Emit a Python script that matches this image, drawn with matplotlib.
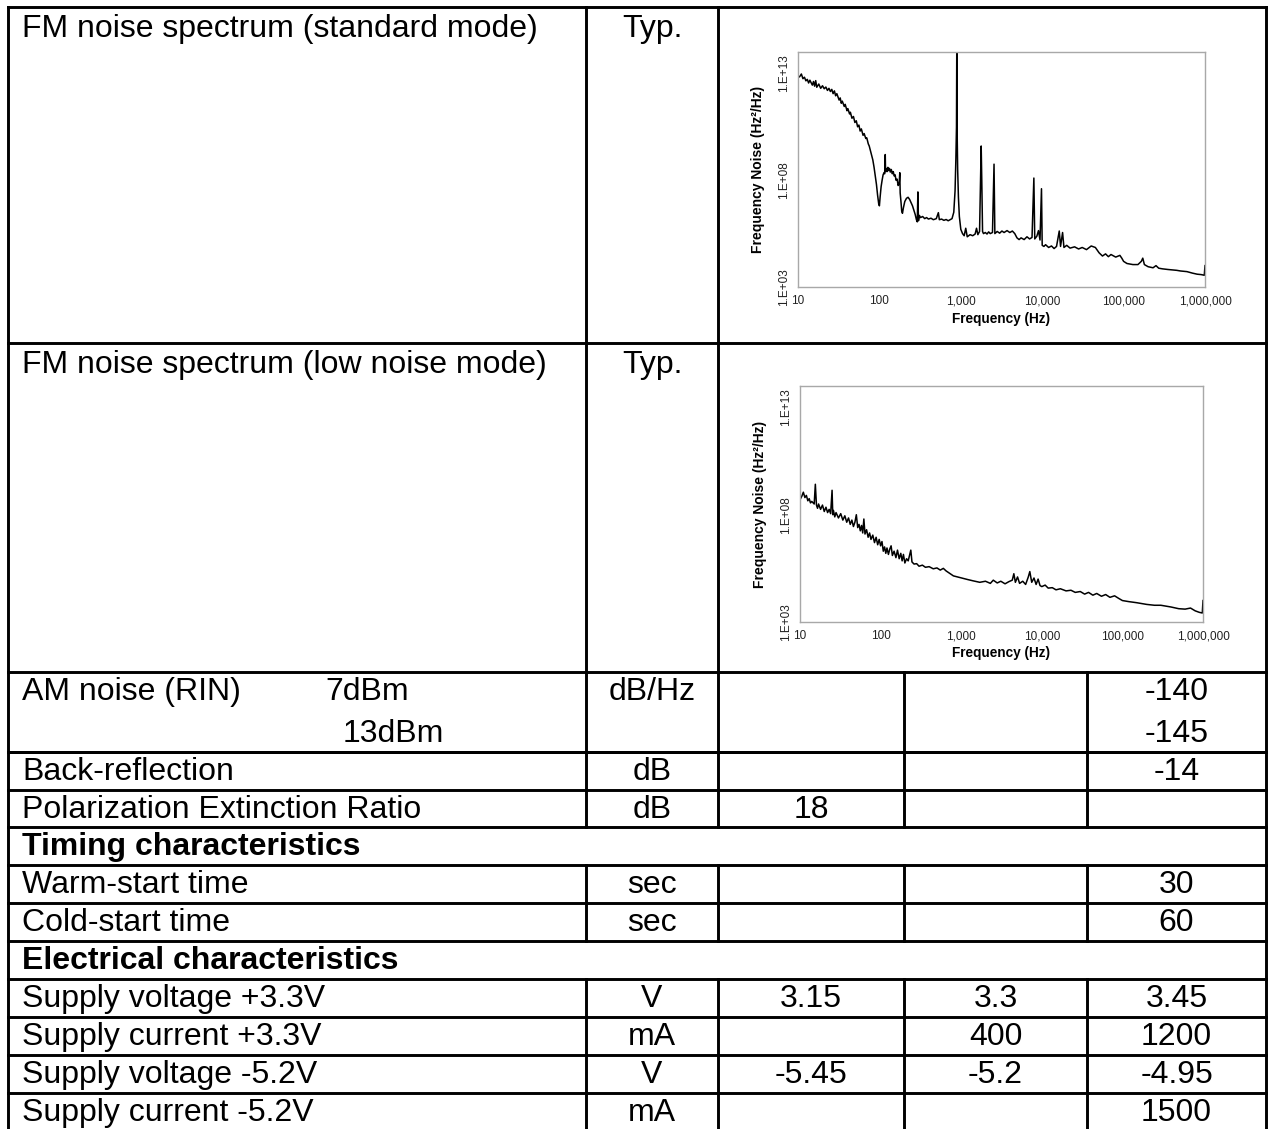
import matplotlib.pyplot as plt
import numpy as np

plt.rcParams['font.family'] = ['Liberation Sans', 'DejaVu Sans']

# ---- FM noise spectrum, standard mode (freq in Hz, noise as log10 of Hz^2/Hz)
std_freq = [10, 10.5, 11, 11.5, 12, 12.5, 13, 13.5, 14, 15, 15.5, 16, 16.5, 17, 18, 19, 20, 21, 22, 23,
            24, 25, 26, 27, 28, 29, 30, 32, 33, 34, 35, 37, 38, 40, 41, 43, 44, 46, 48, 50,
            52, 54, 56, 58, 60, 63, 65, 68, 70, 73, 75, 78, 80, 83, 86, 89, 92, 95, 98, 100,
            102, 105, 108, 111, 114, 116, 118, 119, 121, 124, 127, 130, 133, 136, 140, 144, 148, 152, 156, 160,
            165, 170, 175, 178, 180, 184, 188, 192, 197, 205, 215, 225, 235, 245, 255, 265, 275, 285, 292, 297,
            302, 310, 320, 340, 360, 380, 400, 430, 460, 500, 530, 545, 580, 620, 660, 700, 740, 780, 820, 850,
            870, 885, 893, 900, 915, 935, 960, 1000, 1050, 1100, 1150, 1200, 1300, 1400, 1500, 1560, 1620, 1700, 1750, 1780,
            1810, 1850, 1900, 2000, 2100, 2200, 2300, 2450, 2560, 2620, 2800, 3000, 3200, 3400, 3700, 4000, 4300, 4600, 4900, 5200,
            5500, 6000, 6500, 7000, 7500, 7900, 8100, 8600, 9000, 9400, 9800, 10000, 10500, 11000, 12000, 13000, 14000, 15000, 16200, 16800,
            17800, 18500, 20000, 22000, 25000, 28000, 31000, 35000, 40000, 45000, 50000, 55000, 60000, 65000, 70000, 80000, 90000, 95000, 100000, 110000,
            130000, 150000, 165000, 172000, 180000, 200000, 230000, 250000, 270000, 300000, 350000, 400000, 450000, 500000, 600000, 700000, 800000, 900000, 980000, 1000000]
std_noise_exp = [12.80, 12.85, 12.97, 12.75, 12.82, 12.65, 12.72, 12.55, 12.68, 12.45, 12.62, 12.40, 12.66, 12.35, 12.50, 12.30, 12.42, 12.28, 12.36, 12.20,
                 12.30, 12.15, 12.25, 12.05, 12.18, 11.95, 12.05, 11.75, 11.85, 11.60, 11.70, 11.45, 11.55, 11.25, 11.35, 11.10, 11.18, 10.90, 10.98, 10.70,
                 10.78, 10.50, 10.58, 10.30, 10.40, 10.10, 10.18, 9.95, 9.98, 9.70, 9.60, 9.35, 9.20, 8.95, 8.60, 8.20, 7.80, 7.30, 6.90, 6.80,
                 7.20, 7.70, 8.00, 8.25, 8.35, 8.30, 9.20, 8.40, 8.55, 8.40, 8.60, 8.45, 8.55, 8.38, 8.50, 8.30, 8.40, 8.20, 8.25, 8.00,
                 8.05, 7.75, 7.85, 8.35, 7.40, 7.00, 6.55, 6.45, 6.70, 7.00, 7.15, 7.20, 7.10, 6.95, 6.80, 6.60, 6.40, 6.15, 6.05, 7.45,
                 6.10, 6.35, 6.25, 6.30, 6.20, 6.25, 6.18, 6.22, 6.15, 6.20, 6.48, 6.15, 6.18, 6.12, 6.16, 6.10, 6.15, 6.20, 6.50, 7.50,
                 9.00, 10.50, 14.50, 10.50, 8.50, 7.20, 6.30, 5.70, 5.50, 5.40, 5.75, 5.35, 5.45, 5.40, 5.48, 5.75, 5.45, 5.60, 8.00, 9.60,
                 8.00, 5.60, 5.50, 5.55, 5.48, 5.58, 5.50, 5.55, 8.75, 5.50, 5.60, 5.52, 5.62, 5.55, 5.64, 5.55, 5.62, 5.50, 5.30, 5.22,
                 5.30, 5.22, 5.35, 5.25, 5.32, 8.10, 5.25, 5.38, 5.64, 5.20, 7.60, 4.95, 4.90, 4.98, 4.85, 4.92, 4.80, 4.90, 5.62, 4.90,
                 5.55, 4.85, 4.95, 4.82, 4.88, 4.78, 4.85, 4.75, 4.92, 4.85, 4.60, 4.45, 4.55, 4.42, 4.52, 4.40, 4.48, 4.35, 4.20, 4.10,
                 4.05, 4.05, 4.20, 4.35, 4.05, 3.95, 3.90, 4.00, 3.88, 3.85, 3.82, 3.80, 3.78, 3.75, 3.72, 3.65, 3.60, 3.58, 3.55, 4.00]

# ---- FM noise spectrum, low noise mode
low_freq = [10, 10.5, 11, 11.5, 12, 12.5, 13, 13.5, 14, 15, 15.5, 16, 16.5, 17, 18, 19, 20, 21, 22, 23,
            24, 25, 25.5, 26, 27, 28, 30, 32, 34, 36, 38, 40, 42, 44, 46, 48, 50, 52, 54, 56,
            58, 60, 62, 64, 67, 70, 73, 76, 80, 84, 88, 92, 96, 100, 104, 108, 112, 116, 120, 125,
            130, 135, 140, 147, 155, 162, 170, 178, 185, 192, 200, 210, 220, 237, 245, 260, 280, 300, 330, 360,
            400, 450, 500, 550, 600, 650, 700, 800, 900, 1000, 1200, 1400, 1700, 2000, 2300, 2500, 2800, 3100, 3500, 3900,
            4300, 4500, 4700, 5000, 5300, 5800, 6300, 6800, 7100, 7500, 8000, 8500, 9000, 9500, 10000, 11000, 12000, 13500, 15000, 17000,
            20000, 23000, 26000, 30000, 34000, 38000, 43000, 48000, 55000, 62000, 70000, 80000, 90000, 100000, 120000, 150000, 200000, 250000, 300000, 400000,
            500000, 600000, 700000, 800000, 900000, 980000, 1000000]
low_noise_exp = [8.70, 8.85, 9.05, 8.80, 8.90, 8.65, 8.75, 8.55, 8.62, 8.50, 9.42, 8.45, 8.30, 8.50, 8.25, 8.45, 8.15, 8.35, 8.10, 8.25,
                 8.05, 9.14, 8.00, 8.20, 7.90, 8.10, 7.85, 8.05, 7.75, 7.95, 7.65, 7.85, 7.55, 7.75, 7.45, 7.65, 8.00, 7.40, 7.55, 7.25,
                 7.50, 7.15, 7.80, 7.10, 7.30, 6.95, 7.15, 6.85, 7.05, 6.70, 6.95, 6.60, 6.85, 6.55, 6.75, 6.30, 6.50, 6.20, 6.45, 6.15,
                 6.40, 6.55, 6.10, 6.30, 6.00, 6.35, 5.95, 6.20, 5.85, 6.15, 5.75, 5.95, 5.85, 6.35, 5.80, 5.70, 5.72, 5.60, 5.65, 5.55,
                 5.58, 5.48, 5.52, 5.42, 5.50, 5.38, 5.30, 5.15, 5.10, 5.05, 4.98, 4.92, 4.85, 4.90, 4.80, 4.95, 4.82, 4.90, 4.78, 4.88,
                 4.95, 5.25, 4.85, 5.10, 4.80, 4.90, 4.75, 5.10, 5.35, 4.85, 5.05, 4.75, 5.00, 4.70, 4.65, 4.72, 4.58, 4.60, 4.50, 4.55,
                 4.45, 4.48, 4.38, 4.42, 4.30, 4.38, 4.25, 4.33, 4.20, 4.28, 4.15, 4.22, 4.10, 4.00, 3.95, 3.90, 3.82, 3.78, 3.78, 3.70,
                 3.62, 3.60, 3.65, 3.52, 3.45, 3.42, 4.00]

x_tick_vals = [10, 100, 1000, 10000, 100000, 1000000]
x_tick_labels = ['10', '100', '1,000', '10,000', '100,000', '1,000,000']
y_tick_vals = [1e3, 1e8, 1e13]
y_tick_labels = ['1.E+03', '1.E+08', '1.E+13']

# ---- table text
chart_labels = ['FM noise spectrum (standard mode)', 'FM noise spectrum (low noise mode)']
chart_units = ['Typ.', 'Typ.']

row_labels = ['Back-reflection', 'Polarization Extinction Ratio', 'Timing characteristics',
              'Warm-start time', 'Cold-start time', 'Electrical characteristics',
              'Supply voltage +3.3V', 'Supply current +3.3V', 'Supply voltage -5.2V', 'Supply current -5.2V']
row_units = ['dB', 'dB', None, 'sec', 'sec', None, 'V', 'mA', 'V', 'mA']
row_min = ['', '18', '', '', '', '', '3.15', '', '-5.45', '']
row_typ = ['', '', '', '', '', '', '3.3', '400', '-5.2', '']
row_max = ['-14', '', '', '30', '60', '', '3.45', '1200', '-4.95', '1500']

W, H = 1268, 1129
fig = plt.figure(figsize=(W / 100, H / 100), dpi=100)
tab = fig.add_axes([0, 0, 1, 1])
tab.set_xlim(0, W)
tab.set_ylim(H, 0)
tab.axis('off')

xc = [8, 586, 718, 904, 1087, 1266]
y_top = [7, 343, 672, 752]
y_rows = [752, 790, 827, 865, 903, 941, 979, 1017, 1055, 1093, 1133]
lw = 2.1
fs = 23
line_kw = dict(color='black', lw=lw, solid_capstyle='projecting')

# horizontal lines
for y in y_top + y_rows:
    tab.plot([xc[0], xc[-1]], [y, y], **line_kw)
# outer verticals
tab.plot([xc[0], xc[0]], [y_top[0], 1133], **line_kw)
tab.plot([xc[-1], xc[-1]], [y_top[0], 1133], **line_kw)
# chart rows: verticals for first two columns
tab.plot([xc[1], xc[1]], [y_top[0], 672], **line_kw)
tab.plot([xc[2], xc[2]], [y_top[0], 672], **line_kw)
# AM row
for x in xc[1:5]:
    tab.plot([x, x], [672, 752], **line_kw)
# remaining rows
for i, u in enumerate(row_units):
    if u is None:
        continue
    for x in xc[1:5]:
        tab.plot([x, x], [y_rows[i], y_rows[i + 1]], **line_kw)

# chart row text
for i in range(2):
    tab.text(22, y_top[i] + 30, chart_labels[i], fontsize=fs, va='baseline', ha='left')
    tab.text((xc[1] + xc[2]) / 2, y_top[i] + 30, chart_units[i], fontsize=fs, va='baseline', ha='center')

# AM noise row
tab.text(22, 700, 'AM noise (RIN)', fontsize=fs, va='baseline', ha='left')
tab.text(325, 700, '7dBm', fontsize=fs, va='baseline', ha='left')
tab.text(343, 742, '13dBm', fontsize=fs, va='baseline', ha='left')
tab.text((xc[1] + xc[2]) / 2, 700, 'dB/Hz', fontsize=fs, va='baseline', ha='center')
tab.text((xc[4] + xc[5]) / 2, 700, '-140', fontsize=fs, va='baseline', ha='center')
tab.text((xc[4] + xc[5]) / 2, 742, '-145', fontsize=fs, va='baseline', ha='center')

for i, lab in enumerate(row_labels):
    yb = y_rows[i] + 28
    if row_units[i] is None:
        tab.text(22, yb, lab, fontsize=fs, va='baseline', ha='left', fontweight='bold')
        continue
    tab.text(22, yb, lab, fontsize=fs, va='baseline', ha='left')
    vals = [row_units[i], row_min[i], row_typ[i], row_max[i]]
    for j, v in enumerate(vals):
        if v:
            tab.text((xc[j + 1] + xc[j + 2]) / 2, yb, v, fontsize=fs, va='baseline', ha='center')


def draw_chart(rect, freq, noise_exp):
    ax = fig.add_axes(rect)
    ax.plot(freq, 10 ** np.array(noise_exp), color='black', lw=1.1)
    ax.set_xscale('log')
    ax.set_yscale('log')
    ax.set_xlim(10, 1e6)
    ax.set_ylim(1e3, 1e14)
    ax.set_xticks(x_tick_vals)
    ax.set_xticklabels(x_tick_labels, fontsize=8.5)
    ax.set_yticks(y_tick_vals)
    ax.set_yticklabels(y_tick_labels, fontsize=8.5, rotation=90, va='center')
    ax.minorticks_off()
    ax.tick_params(length=0, pad=6, colors='#222222')
    for s in ax.spines.values():
        s.set_color('#a8a8a8')
        s.set_linewidth(1.0)
    ax.set_xlabel('Frequency (Hz)', fontsize=9.8, fontweight='bold', labelpad=3)
    ax.set_ylabel('Frequency Noise (Hz²/Hz)', fontsize=10, fontweight='bold', labelpad=9)
    return ax


draw_chart([798 / W, 1 - 287 / H, (1205 - 798) / W, (287 - 52) / H], std_freq, std_noise_exp)
draw_chart([800 / W, 1 - 622 / H, (1203 - 800) / W, (622 - 386) / H], low_freq, low_noise_exp)

fig.savefig('out.png', dpi=100)
